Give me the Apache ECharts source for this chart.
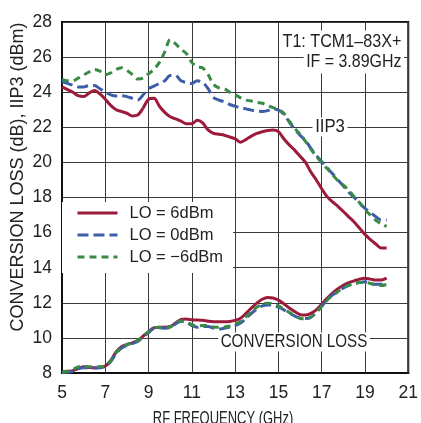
<!DOCTYPE html>
<html><head><meta charset="utf-8">
<script src="https://cdn.jsdelivr.net/npm/echarts@6/dist/echarts.min.js"></script>
<style>html,body{margin:0;padding:0;background:#fff}#c{width:421px;height:423px}</style>
</head><body><div id="c"></div>
<script>
var freq = [5,5.25,5.5,5.75,6,6.25,6.5,6.75,7,7.25,7.5,7.75,8,8.25,8.5,8.75,9,9.25,9.5,9.75,10,10.25,10.5,10.75,11,11.25,11.5,11.75,12,12.25,12.5,12.75,13,13.25,13.5,13.75,14,14.25,14.5,14.75,15,15.25,15.5,15.75,16,16.25,16.5,16.75,17,17.25,17.5,17.75,18,18.25,18.5,18.75,19,19.25,19.5,19.75,20];
var iip3_lo6 = [24.3,24.15,24.0,23.8,23.75,23.95,24.1,23.9,23.6,23.25,23.0,22.9,22.8,22.65,22.7,23.1,23.6,23.65,23.2,22.85,22.6,22.48,22.35,22.2,22.2,22.4,22.25,21.85,21.65,21.6,21.55,21.45,21.35,21.15,21.3,21.5,21.65,21.75,21.82,21.85,21.75,21.35,21.0,20.7,20.35,20.0,19.45,19.0,18.5,18.05,17.75,17.5,17.2,16.9,16.6,16.25,15.9,15.6,15.35,15.12,15.12];
var iip3_lo0 = [24.6,24.5,24.4,24.3,24.3,24.38,24.38,24.2,24.0,23.85,23.78,23.8,23.75,23.65,23.55,23.85,24.2,24.35,24.5,24.65,24.95,24.95,24.65,24.55,24.5,24.65,24.55,24.2,23.7,23.55,23.45,23.3,23.2,23.12,23.05,22.98,22.92,22.9,22.95,23.05,22.98,22.75,22.3,21.9,21.55,21.25,20.8,20.4,20.05,19.7,19.35,19.0,18.65,18.3,18.0,17.7,17.38,17.15,16.9,16.72,16.72];
var iip3_lom6 = [24.73,24.65,24.65,24.8,24.98,25.15,25.3,25.2,25.0,25.1,25.3,25.4,25.25,25.0,24.75,24.8,25.05,25.3,25.7,26.3,27.0,26.75,26.45,26.2,25.7,25.45,25.38,25.0,24.45,24.25,24.2,24.0,23.85,23.68,23.55,23.5,23.42,23.37,23.25,23.12,23.02,22.8,22.35,21.95,21.6,21.2,20.75,20.35,19.98,19.65,19.3,18.95,18.7,18.4,18.05,17.7,17.3,17.0,16.7,16.5,16.35];
var cl_lo6 = [8.07,8.1,8.13,8.25,8.35,8.32,8.3,8.33,8.4,8.7,9.2,9.5,9.62,9.72,9.85,10.1,10.35,10.58,10.6,10.6,10.65,10.85,11.05,11.08,11.03,11.02,11.0,10.95,10.92,10.92,10.92,10.94,11.0,11.12,11.4,11.7,11.98,12.2,12.3,12.27,12.15,11.95,11.7,11.5,11.33,11.3,11.4,11.6,11.92,12.25,12.55,12.8,13.0,13.15,13.25,13.35,13.4,13.35,13.3,13.3,13.4];
var cl_lo0 = [8.02,8.05,8.1,8.25,8.3,8.3,8.28,8.3,8.38,8.65,9.1,9.42,9.58,9.68,9.8,10.05,10.3,10.55,10.58,10.55,10.6,10.8,10.95,10.88,10.7,10.6,10.65,10.65,10.55,10.5,10.55,10.62,10.7,10.85,11.1,11.4,11.65,11.82,11.88,11.86,11.75,11.6,11.42,11.25,11.12,11.1,11.18,11.45,11.8,12.15,12.45,12.62,12.85,13.0,13.1,13.15,13.2,13.12,13.05,13.05,13.1];
var cl_lom6 = [8.05,8.1,8.2,8.35,8.38,8.35,8.35,8.35,8.42,8.7,9.15,9.45,9.62,9.72,9.85,10.1,10.35,10.58,10.6,10.58,10.62,10.82,10.98,10.9,10.75,10.68,10.7,10.7,10.62,10.6,10.62,10.68,10.78,10.95,11.2,11.5,11.75,11.92,11.98,11.95,11.82,11.65,11.45,11.28,11.12,11.08,11.18,11.45,11.8,12.15,12.45,12.65,12.85,13.0,13.1,13.15,13.18,13.1,13.0,12.98,13.05];
var names = ['LO = 6dBm','LO = 0dBm','LO = \u22126dBm'];
var xTicks = [5,7,9,11,13,15,17,19,21];
var yTicks = [8,10,12,14,16,18,20,22,24,26,28];

var FONT = '"Liberation Sans",Arial,Helvetica,sans-serif';
var colors = ['#9c1a3a','#3d5dab','#3a8a47'];
var dashes = ['solid',[11,5],[7,5]];
function pairs(v){ return freq.map(function(f,i){ return [f, v[i]]; }); }
var sets = [[iip3_lo6, cl_lo6],[iip3_lo0, cl_lo0],[iip3_lom6, cl_lom6]];
var series = [];
sets.forEach(function(s, k){
  s.forEach(function(v){
    series.push({type:'line', name:names[k], data:pairs(v), symbol:'none', showSymbol:false, smooth:0.3,
      color:colors[k], lineStyle:{color:colors[k], width:3, type:dashes[k]}, z:2+k});
  });
});
function txt(t, x, y, size, sx, align, bg, pad, rot){
  var o = {type:'text', z:100, x:x, y:y, scaleX:sx, style:{text:t, font:size+'px '+FONT, fill:'#222', align:align, verticalAlign:'middle'}};
  if (bg) { o.style.backgroundColor = '#fff'; o.style.padding = pad; }
  if (rot) o.rotation = rot;
  return o;
}

var chart = echarts.init(document.getElementById('c'), null, {renderer:'canvas'});
chart.setOption({
  animation:false,
  backgroundColor:'#fff',
  grid:{left:62, right:7, top:22, bottom:50, show:true, borderColor:'#111', borderWidth:2, backgroundColor:'transparent'},
  xAxis:{type:'value', min:5, max:21, interval:2,
    axisLine:{show:true, lineStyle:{color:'#111', width:2}}, axisTick:{show:false},
    axisLabel:{color:'#222', fontFamily:FONT, fontSize:17.5, margin:11, formatter:function(v){return xTicks.indexOf(v)>=0? String(v):'';}},
    splitLine:{show:true, lineStyle:{color:'#3a3a3a', width:1}}},
  yAxis:{type:'value', min:8, max:28, interval:2,
    axisLine:{show:true, lineStyle:{color:'#111', width:2}}, axisTick:{show:false},
    axisLabel:{color:'#222', fontFamily:FONT, fontSize:17.5, margin:10, formatter:function(v){return yTicks.indexOf(v)>=0? String(v):'';}},
    splitLine:{show:true, lineStyle:{color:'#3a3a3a', width:1}}},
  legend:{orient:'vertical', left:62, top:202, data:names, itemWidth:40, itemHeight:14, itemGap:0,
    backgroundColor:'#fff', padding:[0,10,5,14],
    itemStyle:{opacity:0, borderWidth:0},
    lineStyle:{width:3},
    textStyle:{fontFamily:FONT, fontSize:16.5, color:'#222', lineHeight:22, padding:[0,0,0,7]}},
  series:series,
  graphic:[
    txt('T1: TCM1\u201383X+', 404, 42, 19, 0.85, 'right', true, [2,3,2,3]),
    txt('IF = 3.89GHz', 404, 62, 19, 0.84, 'right', true, [2,3,2,3]),
    txt('IIP3', 330, 127, 19, 0.88, 'center', true, [0,3,0,3]),
    txt('CONVERSION LOSS', 294, 342, 18.5, 0.82, 'center', true, [0,3,0,3]),
    txt('RF FREQUENCY (GHz)', 223, 419, 18, 0.72, 'center', false),
    txt('CONVERSION LOSS (dB), IIP3 (dBm)', 18, 177, 18, 1, 'center', false, null, Math.PI/2)
  ]
});
</script></body></html>
